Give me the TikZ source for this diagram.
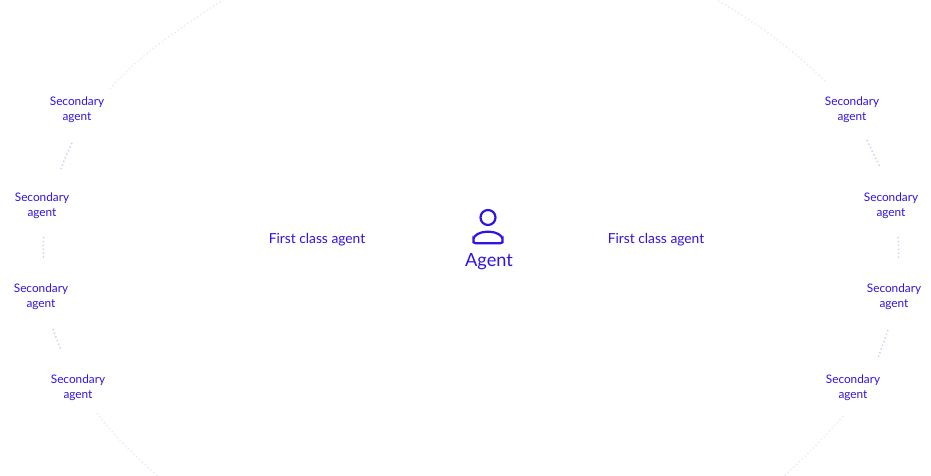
\documentclass[tikz,border=0pt]{standalone}
\usepackage{fontspec}
\setmainfont{Lato}
\definecolor{ink}{RGB}{48,20,228}
\definecolor{arcin}{RGB}{205,200,245}
\definecolor{arcout}{RGB}{234,232,251}
\tikzset{
  sec/.style={text=ink, font=\fontsize{11.8}{15}\selectfont, align=center, inner sep=0pt},
  first/.style={text=ink, font=\fontsize{13.8}{16}\selectfont, inner sep=0pt},
  agentlbl/.style={text=ink, font=\fontsize{18.2}{20}\selectfont, inner sep=0pt},
  ringin/.style={draw=arcin, line width=1.4pt, dash pattern=on 1.3pt off 2.6pt},
  ringout/.style={draw=arcout, line width=1.4pt, dash pattern=on 1.3pt off 2.6pt},
  iconline/.style={draw=ink, line width=2.2pt}
}
\begin{document}
\begin{tikzpicture}[x=1pt,y=-1pt]
\useasboundingbox[fill=white] (0,0) rectangle (931,476);
% dotted ring segments, left
\draw[ringout] (110,89) .. controls (138,56) and (180,28) .. (226,-2);
\draw[ringin] plot[smooth] coordinates {(72,143) (66,156) (61,169)};
\draw[ringin] plot[smooth] coordinates {(43.6,237) (43.2,247.5) (43.5,258)};
\draw[ringin] plot[smooth] coordinates {(53,329) (57,340) (61,350)};
\draw[ringout] (97,413) .. controls (115,437) and (136,457) .. (160,478);
% dotted ring segments, right
\draw[ringout] (825,81) .. controls (795,52) and (760,24) .. (713,-2);
\draw[ringin] plot[smooth] coordinates {(867,140) (873,153) (880,167)};
\draw[ringin] plot[smooth] coordinates {(898,237) (898.6,248) (898.4,259)};
\draw[ringin] plot[smooth] coordinates {(888,330) (883,344) (878,358)};
\draw[ringout] (843,416) .. controls (825,437) and (804,458) .. (781,479);
% secondary agents
\node[sec] (sl1) at (77,110) {Secondary\\agent};
\node[sec] (sl2) at (42,206) {Secondary\\agent};
\node[sec] (sl3) at (41,297) {Secondary\\agent};
\node[sec] (sl4) at (78,388) {Secondary\\agent};
\node[sec] (sr1) at (852,110) {Secondary\\agent};
\node[sec] (sr2) at (891,206) {Secondary\\agent};
\node[sec] (sr3) at (894,297) {Secondary\\agent};
\node[sec] (sr4) at (853,388) {Secondary\\agent};
% first class agents
\node[first] (fl) at (317,240) {First class agent};
\node[first] (fr) at (656,240) {First class agent};
% central agent icon
\draw[iconline] (488,217.5) circle[radius=7.5];
\draw[iconline, rounded corners=2pt] (473.5,243.2) -- (473.5,241)
  .. controls (473.5,235.5) and (480,231.8) .. (488,231.8)
  .. controls (496,231.8) and (502.5,235.5) .. (502.5,241) -- (502.5,243.2) -- cycle;
\node[agentlbl] (agent) at (489,261.5) {Agent};
\end{tikzpicture}
\end{document}
